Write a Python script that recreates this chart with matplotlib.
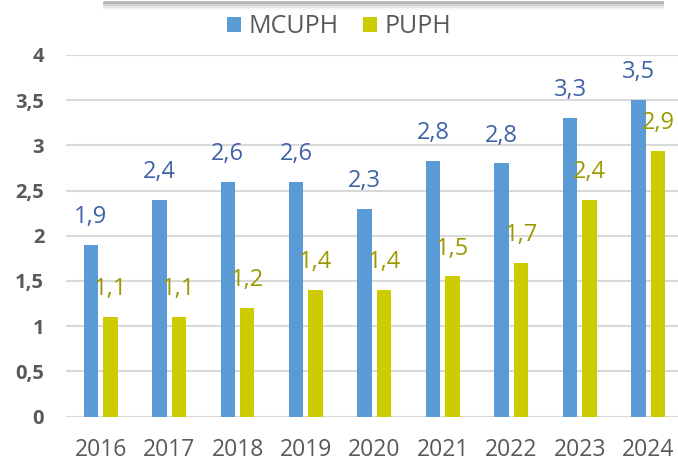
import matplotlib
matplotlib.use("Agg")
import matplotlib.pyplot as plt
import numpy as np

# Data
years = ["2016", "2017", "2018", "2019", "2020", "2021", "2022", "2023", "2024"]
mcuph = [1.9, 2.4, 2.6, 2.6, 2.3, 2.83, 2.8, 3.3, 3.5]
puph = [1.1, 1.1, 1.2, 1.4, 1.4, 1.55, 1.7, 2.4, 2.94]
mcuph_labels = ["1,9", "2,4", "2,6", "2,6", "2,3", "2,8", "2,8", "3,3", "3,5"]
puph_labels = ["1,1", "1,1", "1,2", "1,4", "1,4", "1,5", "1,7", "2,4", "2,9"]
yticks = [0, 0.5, 1, 1.5, 2, 2.5, 3, 3.5, 4]
ytick_labels = ["0", "0,5", "1", "1,5", "2", "2,5", "3", "3,5", "4"]

BLUE = "#5B9BD5"
YELLOW = "#CCCC00"
BLUE_TXT = "#3F62A8"
YELLOW_TXT = "#9A9A00"
GRAY_TXT = "#595959"

plt.rcParams["font.family"] = ["Open Sans", "DejaVu Sans"]

fig = plt.figure(figsize=(6.78, 4.62), dpi=100)
ax = fig.add_axes([66.4 / 678, 45.5 / 462, 616 / 678, 361.5 / 462])

x = np.arange(len(years))
w = 0.212
off = 0.142
b1 = ax.bar(x - off, mcuph, w, color=BLUE, zorder=2, label="MCUPH")
b2 = ax.bar(x + off, puph, w, color=YELLOW, zorder=2, label="PUPH")

for i in range(len(years)):
    ax.annotate(mcuph_labels[i], (x[i] - off, mcuph[i]), xytext=(0, 20),
                textcoords="offset points", ha="center", va="center",
                color=BLUE_TXT, fontsize=17, zorder=5)
    ax.annotate(puph_labels[i], (x[i] + off, puph[i]), xytext=(0, 20),
                textcoords="offset points", ha="center", va="center",
                color=YELLOW_TXT, fontsize=17, zorder=5)

ax.set_xlim(-0.5, len(years) - 0.5)
ax.set_ylim(0, 4)
ax.set_xticks(x)
ax.set_xticklabels(years, fontsize=16.5, color=GRAY_TXT)
ax.set_yticks(yticks)
ax.set_yticklabels(ytick_labels, fontsize=14.5, color=GRAY_TXT, fontweight="bold")
ax.tick_params(axis="x", length=0, pad=15.5)
ax.tick_params(axis="y", length=0, pad=16)
ax.grid(axis="y", color="#D9D9D9", linewidth=1.5, zorder=0)
for s in ax.spines.values():
    s.set_visible(False)

leg = fig.legend(handles=[b1, b2], loc="center", bbox_to_anchor=(339 / 678, 1 - 26.5 / 462),
                 ncol=2, frameon=False, fontsize=18, handlelength=0.55, handleheight=0.55,
                 columnspacing=1.0, handletextpad=0.3, borderpad=0)
for t in leg.get_texts():
    t.set_color(GRAY_TXT)

# remnant of the box edge at the top of the picture, with a soft shadow
for k, a in enumerate([0.55, 0.3, 0.15, 0.07]):
    fig.add_artist(plt.Line2D([104 / 678, 662 / 678], [1 - (2 + k * 2) / 462] * 2,
                              color="#7F7F7F", alpha=a, linewidth=2.0))

fig.savefig("out.png", dpi=100)
